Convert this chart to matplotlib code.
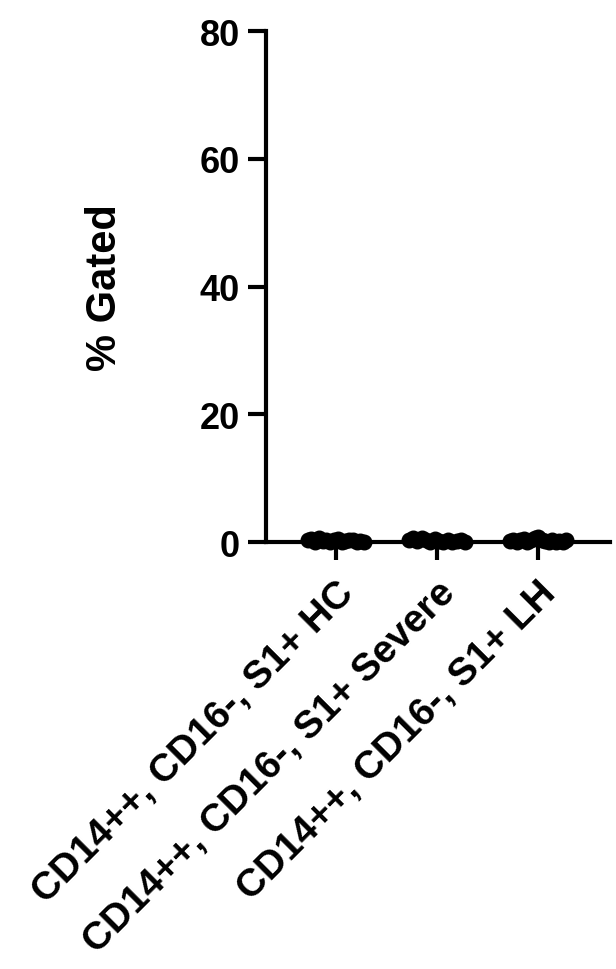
import numpy as np
import matplotlib.pyplot as plt

plt.rcParams['font.family'] = ['Liberation Sans', 'DejaVu Sans']
plt.rcParams['font.weight'] = 'bold'

# data (% gated)
groups = ['CD14++, CD16-, S1+ HC', 'CD14++, CD16-, S1+ Severe', 'CD14++, CD16-, S1+ LH']
hc = [0.3, 0.5, 0.1, 0.6, 0.2, 0.4, 0.0, 0.3, 0.5, 0.1, 0.2, 0.4, 0.3, 0.1, 0.2, 0.0]
severe = [0.4, 0.6, 0.2, 0.7, 0.3, 0.1, 0.5, 0.2, 0.0, 0.3, 0.1, 0.2, 0.4, 0.1]
lh = [0.2, 0.4, 0.0, 0.3, 0.5, 0.1, 0.3, 0.6, 0.8, 0.4, 0.2, 0.1, 0.3, 0.0, 0.2, 0.1, 0.3]
yticks = [0, 20, 40, 60, 80]

fig = plt.figure(figsize=(6.16, 9.7), dpi=100)
ax = fig.add_axes([0.432, 0.440, 0.558, 0.527])

for i, vals in enumerate([hc, severe, lh]):
    n = len(vals)
    xs = i + np.linspace(-0.28, 0.28, n)
    ax.scatter(xs, vals, s=110, color='black', zorder=3, clip_on=False)

ax.set_xlim(-0.69, 2.71)
ax.set_ylim(0, 80)
ax.set_yticks(yticks)
ax.set_xticks(range(len(groups)))
ax.set_xticklabels(groups, rotation=45, ha='right', rotation_mode='anchor', fontsize=28)
ax.tick_params(axis='y', labelsize=26, width=3, length=13, pad=6)
ax.tick_params(axis='x', width=3, length=13, pad=10)
ax.set_ylabel('% Gated', fontsize=30, fontweight='bold')
ax.yaxis.set_label_coords(-0.41, 0.5)

for s in ['top', 'right']:
    ax.spines[s].set_visible(False)
for s in ['left', 'bottom']:
    ax.spines[s].set_linewidth(3)

fig.savefig('out.png', dpi=100)
